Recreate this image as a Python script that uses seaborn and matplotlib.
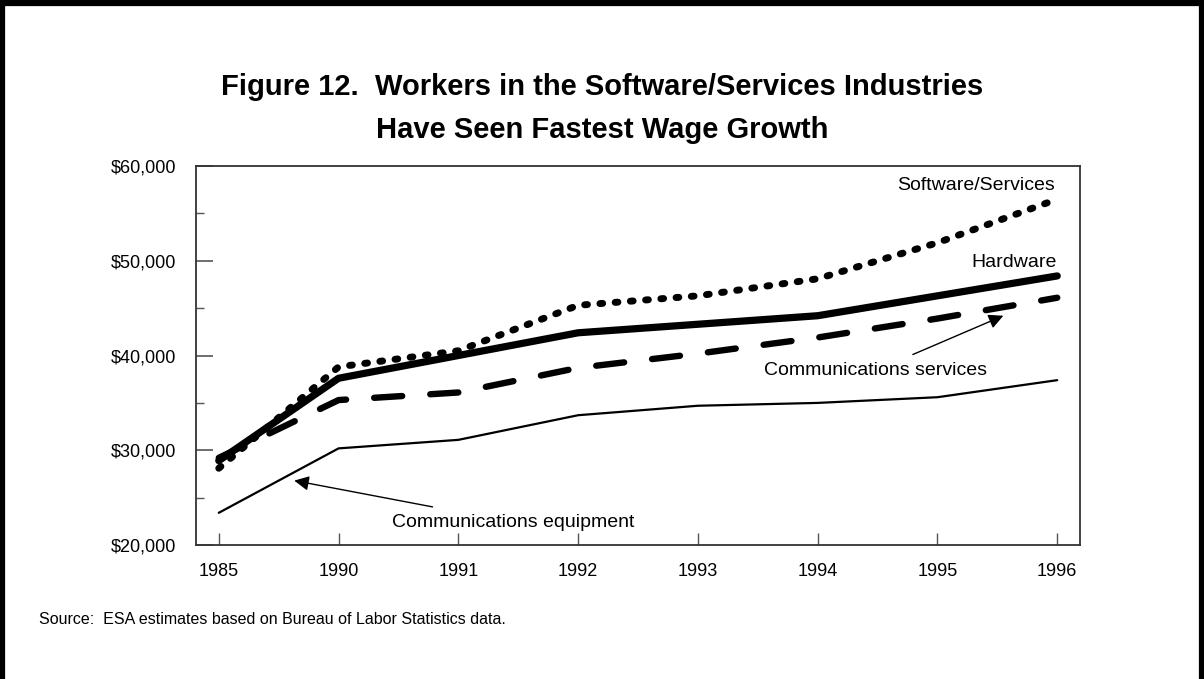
import matplotlib
matplotlib.use("Agg")
import matplotlib.pyplot as plt
from matplotlib.ticker import MultipleLocator, FuncFormatter
from matplotlib.lines import Line2D
import seaborn as sns
import pandas as pd

years = ["1985", "1990", "1991", "1992", "1993", "1994", "1995", "1996"]
software = [28100, 38800, 40500, 45300, 46300, 48100, 51900, 56500]
hardware = [28900, 37600, 40000, 42400, 43300, 44200, 46300, 48400]
comm_services = [29200, 35300, 36100, 38700, 40200, 41900, 43900, 46100]
comm_equipment = [23400, 30200, 31100, 33700, 34700, 35000, 35600, 37400]

sns.set_theme(style="ticks")
plt.rcParams['font.family'] = ['Liberation Sans', 'DejaVu Sans']
plt.rcParams['text.color'] = 'black'

fig = plt.figure(figsize=(12.04, 6.79), dpi=100)
ax = fig.add_axes([0.1628, 0.1973, 0.7342, 0.5582])

df = pd.DataFrame({'year': years, 'Software/Services': software, 'Hardware': hardware,
                   'Communications services': comm_services,
                   'Communications equipment': comm_equipment})

# thin solid first, then the heavy ones on top
sns.lineplot(data=df, x='year', y='Communications equipment', ax=ax, color='black',
             linewidth=1.6, sort=False)
sns.lineplot(data=df, x='year', y='Communications services', ax=ax, color='black',
             linewidth=4.6, sort=False)
ax.lines[-1].set_dashes((4.4, 4.4))
ax.lines[-1].set_dash_capstyle('round')
sns.lineplot(data=df, x='year', y='Hardware', ax=ax, color='black',
             linewidth=5.2, sort=False)
sns.lineplot(data=df, x='year', y='Software/Services', ax=ax, color='black',
             linewidth=5.0, sort=False)
ax.lines[-1].set_dashes((0.4, 1.8))
ax.lines[-1].set_dash_capstyle('round')

ax.set_xlim(-0.19, 7.19)
ax.set_ylim(20000, 60000)
ax.yaxis.set_major_locator(MultipleLocator(10000))
ax.yaxis.set_minor_locator(MultipleLocator(5000))
ax.yaxis.set_major_formatter(FuncFormatter(lambda v, p: "${:,.0f}".format(v)))
ax.set_xlabel('')
ax.set_ylabel('')

for s in ax.spines.values():
    s.set_visible(True)
    s.set_color('#333333')
    s.set_linewidth(1.3)

ax.tick_params(axis='y', which='major', direction='in', length=12, width=1.2,
               color='#555555', labelsize=13, pad=14, labelcolor='black')
ax.tick_params(axis='y', which='minor', direction='in', length=6, width=1.0,
               color='#555555')
ax.tick_params(axis='x', which='major', direction='in', length=9, width=1.0,
               color='#555555', labelsize=13, pad=13, labelcolor='black')

lab = dict(fontsize=14, color='black')
ax.text(6.98, 57900, "Software/Services", ha='right', va='center', **lab)
ax.text(7.0, 49800, "Hardware", ha='right', va='center', **lab)
ax.annotate("Communications services", xy=(6.55, 44200), xytext=(5.48, 38400),
            ha='center', va='center', **lab,
            arrowprops=dict(arrowstyle='-|>', color='black', lw=1.0,
                            mutation_scale=22, shrinkA=8, shrinkB=0))
ax.annotate("Communications equipment", xy=(0.63, 26800), xytext=(1.45, 22400),
            ha='left', va='center', **lab,
            arrowprops=dict(arrowstyle='-|>', color='black', lw=1.0,
                            mutation_scale=22, shrinkA=14, shrinkB=0))

fig.text(0.5, 0.872, "Figure 12.  Workers in the Software/Services Industries",
         ha='center', va='center', fontsize=21, fontweight='bold', color='black')
fig.text(0.5, 0.808, "Have Seen Fastest Wage Growth",
         ha='center', va='center', fontsize=21, fontweight='bold', color='black')
fig.text(0.032, 0.087, "Source:  ESA estimates based on Bureau of Labor Statistics data.",
         ha='left', va='center', fontsize=11.5, color='black')

# heavy frame round the page (left, top, right)
for xs, ys in [([0.002, 0.002], [0.0, 0.996]), ([0.0, 1.0], [0.996, 0.996]),
               ([0.998, 0.998], [0.0, 0.996])]:
    fig.add_artist(Line2D(xs, ys, transform=fig.transFigure, color='black', linewidth=4.5))

fig.savefig("out.png", dpi=100)
